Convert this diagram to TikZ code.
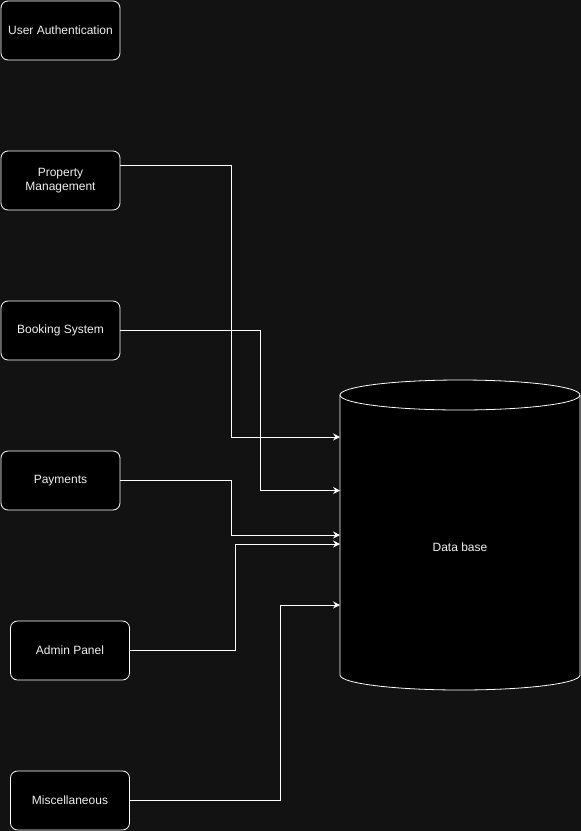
\documentclass[tikz,border=0pt]{standalone}
\usepackage{fontspec}
\setmainfont{Liberation Sans}
\usetikzlibrary{arrows.meta}
\definecolor{bg}{HTML}{121212}
\definecolor{fg}{HTML}{F0F0F0}
\tikzset{
  box/.style={draw=white, fill=black, rounded corners=7pt, minimum width=119pt, minimum height=59pt, inner sep=0pt, text=fg, align=center, font=\fontsize{12}{14}\selectfont, line width=0.8pt},
  conn/.style={draw=white, line width=0.9pt, -{Stealth[length=7pt,width=7pt,inset=2.5pt]}}
}
\begin{document}
\begin{tikzpicture}[x=1pt,y=-1pt]
\fill[bg] (0,0) rectangle (581,831);
\useasboundingbox (0,0) rectangle (581,831);
\node[box] (ua) at (60.5,30.5) {User Authentication};
\node[box] (pm) at (60.5,180.5) {Property\\Management};
\node[box] (bs) at (60.5,330.5) {Booking System};
\node[box] (pay) at (60.5,480.5) {Payments};
\node[box] (ap) at (70,650.5) {Admin Panel};
\node[box] (misc) at (70,800.5) {Miscellaneous};
% cylinder
\draw[white, fill=black, line width=0.8pt] (340,395) -- (340,675) arc[start angle=180, end angle=360, x radius=120, y radius=-15] -- (580,395) arc[start angle=0, end angle=180, x radius=120, y radius=-15] -- cycle;
\draw[white, line width=0.8pt] (340,395) arc[start angle=180, end angle=360, x radius=120, y radius=-15];
\node[inner sep=0pt, minimum width=240pt, minimum height=280pt] (db) at (460,547) {};
\node[text=fg, font=\fontsize{12}{14}\selectfont] (dblabel) at (460,547) {Data base};
\coordinate (d1) at (340,437);
\coordinate (d2) at (340,490.5);
\coordinate (d3) at (340,535);
\coordinate (d4) at (340,544);
\coordinate (d5) at (340,605);
\draw[conn] ([yshift=15.5pt]pm.east) -| (231,437) -- (d1);
\draw[conn] (bs.east) -| (260.5,490.5) -- (d2);
\draw[conn] (pay.east) -| (231,535) -- (d3);
\draw[conn] (ap.east) -| (235.5,544) -- (d4);
\draw[conn] (misc.east) -| (280.5,605) -- (d5);
\end{tikzpicture}
\end{document}
